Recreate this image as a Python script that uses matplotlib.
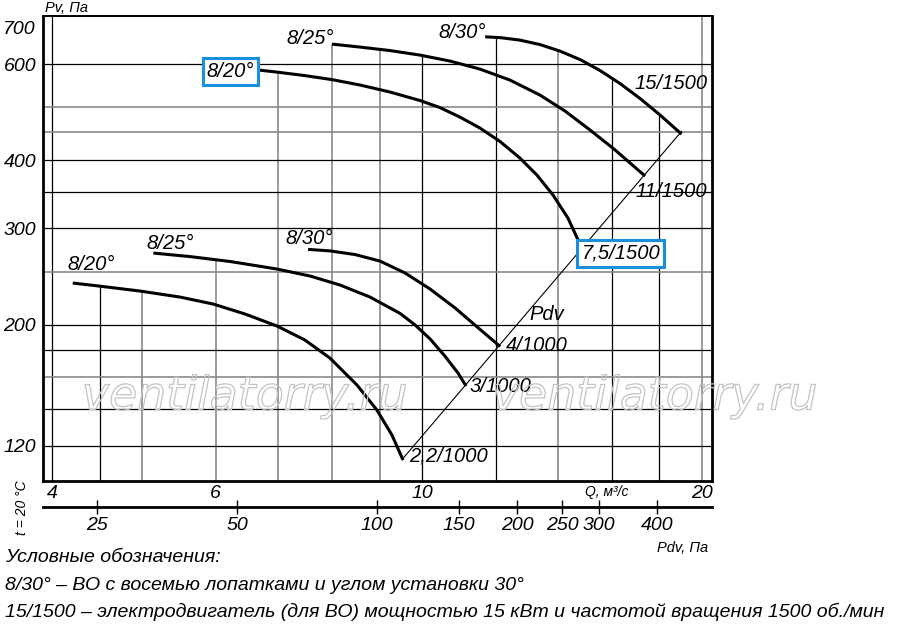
import numpy as np
import matplotlib.pyplot as plt
from matplotlib import patheffects as pe
from matplotlib.ticker import NullLocator, FixedLocator, FixedFormatter

plt.rcParams['font.family'] = ['Liberation Sans', 'DejaVu Sans']
plt.rcParams['font.style'] = 'italic'

# fan curves, Q in m3/s, Pv in Pa
q_22_1000 = [4.21, 4.49, 4.97, 5.49, 5.96, 6.45, 6.98, 7.48, 7.96, 8.51, 8.94, 9.28, 9.54]
p_22_1000 = [238.3, 235.3, 230.4, 224.6, 218.1, 209.1, 198.8, 187.4, 173.6, 155.0, 139.5, 125.5, 112.9]

q_3_1000 = [5.14, 5.63, 6.22, 6.98, 7.58, 8.16, 8.79, 9.47, 9.83, 10.20, 10.58, 10.93, 11.15]
p_3_1000 = [270.4, 266.4, 260.9, 252.8, 245.4, 236.3, 224.6, 209.6, 199.6, 188.2, 175.1, 163.0, 154.3]

q_4_1000 = [7.54, 7.96, 8.47, 9.01, 9.59, 10.20, 10.85, 11.48, 12.13]
p_4_1000 = [274.6, 272.9, 268.7, 261.4, 248.5, 232.3, 214.5, 197.5, 182.3]

q_75_1500 = [6.68, 6.98, 7.48, 8.00, 8.58, 9.24, 9.95, 10.45, 10.98, 11.54, 12.13, 12.74,
             13.29, 13.83, 14.35, 14.75]
p_75_1500 = [585.0, 580.1, 571.6, 562.0, 549.2, 533.2, 514.5, 499.5, 479.9, 458.1, 432.8, 403.7,
             375.7, 345.3, 313.4, 283.2]

q_11_1500 = [8.00, 8.58, 9.24, 9.95, 10.72, 11.54, 12.43, 13.39, 14.25, 15.16, 16.13, 17.37]
p_11_1500 = [652.8, 644.6, 635.2, 623.2, 607.6, 587.5, 560.9, 526.5, 492.1, 454.2, 417.6, 374.1]

q_15_1500 = [11.69, 12.13, 12.74, 13.39, 14.07, 14.79, 15.54, 16.33, 17.16, 18.03, 19.01]
p_15_1500 = [673.2, 670.9, 663.9, 651.5, 633.8, 611.5, 583.8, 552.6, 518.8, 483.9, 446.6]

curves = [(q_22_1000, p_22_1000), (q_3_1000, p_3_1000), (q_4_1000, p_4_1000),
          (q_75_1500, p_75_1500), (q_11_1500, p_11_1500), (q_15_1500, p_15_1500)]

# dynamic pressure Pdv = k * Q^2
pdv_k = 1.25

q_grid_black = [4, 4.5, 10, 12, 16, 18]
q_grid_gray = [5, 6, 7, 8, 9, 14, 20]
p_grid_black = [600, 400, 350, 300, 200, 180, 140, 120]
p_grid_gray = [500, 450, 250, 160]

q_ticks = [4, 6, 10, 20]
p_ticks = [120, 200, 300, 400, 600, 700]
pdv_ticks = [25, 50, 100, 150, 200, 250, 300, 400]

xlim = (3.911, 20.5)
ylim = (103.4, 735)

fig = plt.figure(figsize=(9, 6.27), dpi=100)
ax = fig.add_axes([0.0478, 0.2329, 0.7433, 0.7416])
ax.set_xscale('log')
ax.set_yscale('log')
ax.set_xlim(*xlim)
ax.set_ylim(*ylim)


def envelope(q):
    ''' top of the vertical grid line: highest curve at this Q '''
    tops = []
    for qc, pc in curves:
        if qc[0] <= q <= qc[-1]:
            tops.append(10 ** np.interp(np.log10(q), np.log10(qc), np.log10(pc)))
    return max(tops) if tops else ylim[1]


for qs, col, lw in [(q_grid_black, 'black', 0.9), (q_grid_gray, '#8a8a8a', 1.2)]:
    for q in qs:
        ax.vlines(q, ylim[0], envelope(q), color=col, lw=lw, zorder=1)
for ps, col, lw in [(p_grid_black, 'black', 0.9), (p_grid_gray, '#8a8a8a', 1.2)]:
    ax.hlines(ps, xlim[0], xlim[1], color=col, lw=lw, zorder=1)

# watermark
for xf in [245 / 900, 655 / 900]:
    fig.text(xf, 1 - 397 / 627, 'ventilatorry.ru', ha='center', va='center',
             fontsize=33, family='DejaVu Sans', style='oblique', color=(1, 1, 1, 0),
             path_effects=[pe.withStroke(linewidth=0.9, foreground='#c4c4c4')], zorder=2)

# Pdv line through curve end points
q_end = [c[0][-1] for c in curves]
q_line = np.array([min(q_end), max(q_end)])
ax.plot(q_line, pdv_k * q_line ** 2, color='black', lw=0.8, zorder=3)

for qc, pc in curves:
    ax.plot(qc, pc, color='black', lw=2.2, solid_capstyle='butt',
            solid_joinstyle='round', zorder=4)

lbl = dict(fontsize=14.5, ha='center', va='center', zorder=5)
box = dict(boxstyle='square,pad=0.2', fc='white', ec='#1a8fdc', lw=2.2)
ax.text(4.405, 258, '8/20°', **lbl)
ax.text(5.357, 282, '8/25°', **lbl)
ax.text(7.56, 287, '8/30°', **lbl)
ax.text(6.22, 582, '8/20°', bbox=box, **lbl)
ax.text(7.58, 669, '8/25°', **lbl)
ax.text(11.04, 686, '8/30°', **lbl)
ax.text(18.52, 554, '15/1500', **lbl)
ax.text(18.55, 350, '11/1500', **lbl)
ax.text(16.36, 270, '7,5/1500', bbox=box, **lbl)
ax.text(13.29, 183, '4/1000', **lbl)
ax.text(12.13, 154, '3/1000', **lbl)
ax.text(10.67, 115, '2,2/1000', **lbl)
ax.text(13.62, 209, 'Pdv', **lbl)

ax.xaxis.set_major_locator(FixedLocator(q_ticks))
ax.xaxis.set_major_formatter(FixedFormatter([str(v) for v in q_ticks]))
ax.xaxis.set_minor_locator(NullLocator())
ax.yaxis.set_major_locator(FixedLocator(p_ticks))
ax.yaxis.set_major_formatter(FixedFormatter([str(v) for v in p_ticks]))
ax.yaxis.set_minor_locator(NullLocator())
ax.tick_params(axis='both', length=0, labelsize=14)
ax.tick_params(axis='x', pad=3)
ax.tick_params(axis='y', pad=5)
for s in ['left', 'bottom', 'right']:
    ax.spines[s].set_linewidth(2)
ax.spines['top'].set_linewidth(1.4)

sec = ax.secondary_xaxis(-0.056, functions=(lambda q: pdv_k * q ** 2,
                                            lambda p: np.sqrt(np.abs(p) / pdv_k)))
sec.xaxis.set_major_locator(FixedLocator(pdv_ticks))
sec.xaxis.set_major_formatter(FixedFormatter([str(v) for v in pdv_ticks]))
sec.xaxis.set_minor_locator(NullLocator())
sec.spines['bottom'].set_linewidth(2)
sec.tick_params(direction='inout', length=10, width=1, pad=2, labelsize=14)

fig.text(45 / 900, 1 - 8 / 627, 'Pv, Па', fontsize=10.5, ha='left', va='center')
fig.text(607 / 900, 1 - 492 / 627, 'Q, м³/с', fontsize=10, ha='center', va='center')
fig.text(708 / 900, 1 - 548 / 627, 'Pdv, Па', fontsize=10.5, ha='right', va='center')
fig.text(22 / 900, 1 - 508 / 627, 't = 20 °C', fontsize=10, rotation=90, ha='center', va='center')

leg = dict(fontsize=14, ha='left', va='center')
fig.text(5 / 900, 1 - 558 / 627, 'Условные обозначения:', **leg)
fig.text(5 / 900, 1 - 585 / 627, '8/30° – ВО с восемью лопатками и углом установки 30°', **leg)
fig.text(5 / 900, 1 - 612 / 627,
         '15/1500 – электродвигатель (для ВО) мощностью 15 кВт и частотой вращения 1500 об./мин', **leg)

fig.savefig('out.png', dpi=100)
